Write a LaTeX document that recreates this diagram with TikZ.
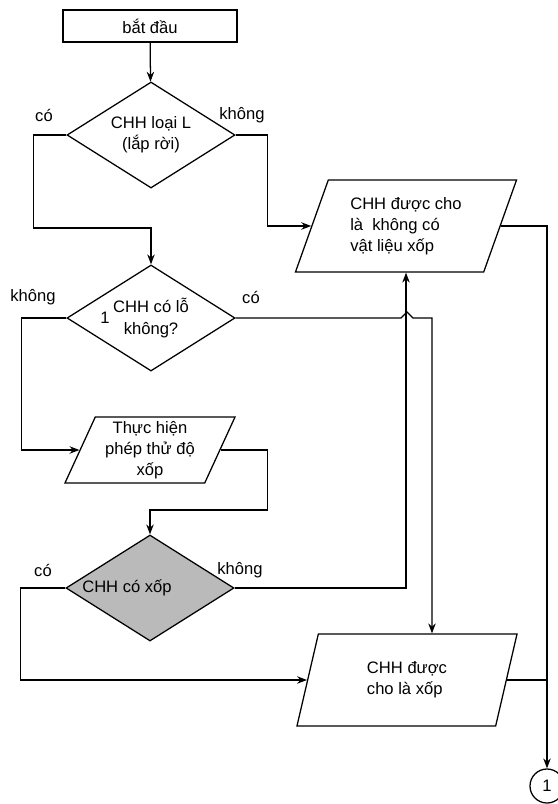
\documentclass[tikz,border=0pt]{standalone}
\usepackage{fontspec}
\setmainfont{Liberation Sans}
\usetikzlibrary{shapes.geometric, arrows.meta, positioning, calc}

\begin{document}
\begin{tikzpicture}[
    x=0.025cm, y=-0.025cm,
    >=Stealth,
    font=\fontsize{11.8}{15}\selectfont,
    startbox/.style={rectangle, draw=black, line width=0.9pt, minimum width=4.35cm, minimum height=0.8cm},
    decision/.style={diamond, draw=black, line width=0.9pt, aspect=1.6, inner sep=0pt, minimum width=4.2cm, minimum height=2.65cm, align=center},
    io/.style={trapezium, trapezium stretches body, draw=black, line width=0.9pt, inner sep=1pt, align=left},
    connector/.style={circle, draw=black, line width=0.9pt, minimum size=0.85cm, inner sep=0pt},
    arrow/.style={->, line width=0.9pt, draw=black}
]
\useasboundingbox (0,0) rectangle (558,804);

% LEFT COLUMN
\node[startbox] (start) at (150,26) {bắt đầu};
\node[decision] (loaiL) at (151,135) {CHH loại L\\(lắp rời)};
\node[decision] (colo) at (151,318) {CHH có lỗ\\không?};
\node (mark1) at (105,318) {1};
\node[io, trapezium left angle=63.4, trapezium right angle=116.6, minimum width=4.25cm, minimum height=1.65cm, align=center] (thu) at (150,450) {Thực hiện\\phép thử độ\\xốp};
\node[decision, fill=black!27] (coxop) at (150,588) {};
\node (coxoptext) at (127,588) {CHH có xốp};

% RIGHT COLUMN
\node[io, trapezium left angle=61.5, trapezium right angle=118.5, minimum width=5.525cm, minimum height=2.3cm] (kxop) at (406,226) {CHH được cho\\là~ không có\\vật liệu xốp};
\node[io, trapezium left angle=61.5, trapezium right angle=118.5, minimum width=5.5cm, minimum height=2.3cm] (xop) at (407,680) {CHH được\\cho là xốp};
\node[connector] (next) at (547,786) {1};

% branch labels
\node (yes1) at (44,115) {có};
\node (no1) at (242,115) {không};
\node (no2) at (33,297) {không};
\node (yes2) at (251,297) {có};
\node (yes3) at (43,570) {có};
\node (no3) at (240,570) {không};

% connectors
\coordinate (hopend) at (432,318);
\draw[arrow] (start) -- (loaiL);
\draw[arrow] (loaiL.west) -- ++(-33,0) -- ++(0,93) -| (colo.north);
\draw[arrow] (loaiL.east) -- ++(32,0) |- (kxop.left side);
\draw[arrow] (kxop.right side) -| (next.north);
\draw[arrow] (colo.west) -- ++(-45,0) |- (thu.left side);
\draw[arrow] (colo.east) -- (401,318) -- ++(6,-6) -- ++(6,6) -- (hopend) -- (hopend |- xop.north);
\draw[arrow] (thu.right side) -- ++(47,0) -- ++(0,60) -| (coxop.north);
\draw[arrow] (coxop.west) -- ++(-45,0) |- (xop.left side);
\draw[arrow] (coxop.east) -| (kxop.south);
\draw[line width=0.9pt] (xop.right side) -- (xop.right side -| next.north);

\end{tikzpicture}
\end{document}
